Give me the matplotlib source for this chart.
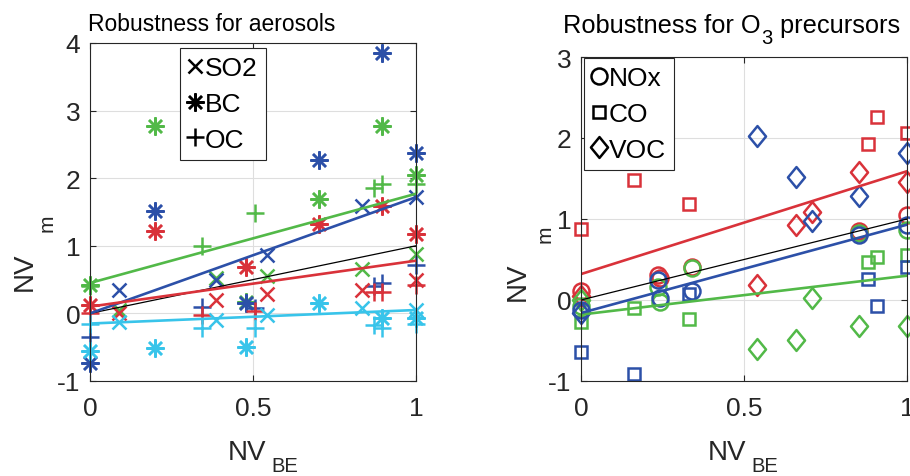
import numpy as np
import matplotlib
matplotlib.use("Agg")
import matplotlib.pyplot as plt
from matplotlib.lines import Line2D
from matplotlib.path import Path

FONT = ['Liberation Sans Narrow', 'Liberation Sans', 'DejaVu Sans']
plt.rcParams['font.family'] = FONT

GREEN = '#52b948'
BLUE = '#2c50a8'
RED = '#d9323a'
CYAN = '#38c4ea'
GRAY = '#262626'

# ---------------- Aerosols (left) ----------------
aer_colors = ['green', 'blue', 'red', 'cyan']
so2_x = [0.09, 0.385, 0.542, 0.835, 1.0]
so2_y = {
    'green': [0.05, 0.53, 0.56, 0.66, 0.88],
    'blue':  [0.34, 0.50, 0.86, 1.59, 1.72],
    'red':   [0.00, 0.20, 0.29, 0.34, 0.50],
    'cyan':  [-0.12, -0.10, -0.03, 0.08, 0.05],
}
bc_x = [0.0, 0.2, 0.48, 0.703, 0.895, 1.0]
bc_y = {
    'green': [0.42, 2.77, 0.17, 1.69, 2.77, 2.05],
    'blue':  [-0.74, 1.52, 0.15, 2.27, 3.85, 2.38],
    'red':   [0.12, 1.22, 0.69, 1.32, 1.59, 1.18],
    'cyan':  [-0.56, -0.51, -0.49, 0.15, -0.07, -0.07],
}
oc_x = [0.0, 0.345, 0.506, 0.872, 0.895, 1.0]
oc_y = {
    'green': [0.40, 1.00, 1.48, 1.85, 1.91, 1.91],
    'blue':  [-0.35, 0.10, 0.08, 0.41, 0.45, 0.71],
    'red':   [0.00, -0.03, 0.03, 0.32, 0.32, 0.42],
    'cyan':  [-0.15, -0.22, -0.22, -0.17, -0.22, -0.15],
}
# fitted lines: intercept, slope
aer_fit = {
    'green': (0.45, 1.32),
    'blue':  (0.00, 1.72),
    'red':   (0.10, 0.68),
    'cyan':  (-0.15, 0.20),
}

# ---------------- O3 precursors (right) ----------------
o3_colors = ['red', 'green', 'blue']
nox_x = [0.0, 0.236, 0.242, 0.34, 0.853, 1.0]
nox_y = {
    'red':   [0.11, 0.31, 0.27, 0.41, 0.85, 1.05],
    'green': [-0.08, 0.16, -0.02, 0.39, 0.83, 0.86],
    'blue':  [-0.12, 0.25, 0.02, 0.11, 0.80, 0.93],
}
co_x = [0.0, 0.163, 0.332, 0.881, 0.909, 1.0]
co_y = {
    'red':   [0.88, 1.48, 1.18, 1.93, 2.26, 2.06],
    'green': [-0.27, -0.10, -0.23, 0.47, 0.53, 0.56],
    'blue':  [-0.64, -0.91, 0.07, 0.26, -0.07, 0.41],
}
voc_x = [0.0, 0.539, 0.658, 0.708, 0.853, 1.0]
voc_y = {
    'red':   [0.05, 0.19, 0.93, 1.09, 1.58, 1.46],
    'green': [0.00, -0.60, -0.49, 0.03, -0.32, -0.32],
    'blue':  [-0.16, 2.02, 1.52, 0.97, 1.29, 1.81],
}
o3_fit = {
    'red':   (0.32, 1.27),
    'green': (-0.18, 0.48),
    'blue':  (-0.16, 1.09),
}

cmap = {'green': GREEN, 'blue': BLUE, 'red': RED, 'cyan': CYAN}

ast_marker = (8, 2, 0)   # 8-armed asterisk like MATLAB '*'
diamond = Path([(0, -1), (0.82, 0), (0, 1), (-0.82, 0), (0, -1)],
               [Path.MOVETO, Path.LINETO, Path.LINETO, Path.LINETO, Path.CLOSEPOLY])

W, H = 910, 477
fig = plt.figure(figsize=(W / 100, H / 100), dpi=100)

def px_axes(l, t, r, b):
    return fig.add_axes([l / W, 1 - b / H, (r - l) / W, (b - t) / H])

axL = px_axes(90, 44, 416, 382)
axR = px_axes(581, 58, 907, 382)

def style(ax, ylim, yticks):
    ax.set_xlim(0, 1)
    ax.set_ylim(*ylim)
    ax.set_xticks([0, 0.5, 1])
    ax.set_xticklabels(['0', '0.5', '1'])
    ax.set_yticks(yticks)
    ax.set_yticklabels([str(v) for v in yticks])
    ax.grid(True, color='#dedede', linewidth=0.8)
    ax.set_axisbelow(True)
    ax.tick_params(direction='in', length=4, width=0.8, colors=GRAY,
                   labelsize=19, labelcolor=GRAY, top=True, right=True)
    ax.tick_params(axis='x', pad=11)
    ax.tick_params(axis='y', pad=7)
    for s in ax.spines.values():
        s.set_color(GRAY)
        s.set_linewidth(0.8)

style(axL, (-1, 4), [-1, 0, 1, 2, 3, 4])
style(axR, (-1, 3), [-1, 0, 1, 2, 3])

xx = np.array([0.0, 1.0])
MEW = 1.8
# Left panel
for c in aer_colors:
    col = cmap[c]
    axL.plot(so2_x, so2_y[c], ls='none', marker='x', ms=10, mew=MEW, color=col, clip_on=False)
    axL.plot(bc_x, bc_y[c], ls='none', marker=ast_marker, ms=13, mew=MEW, color=col, clip_on=False)
    axL.plot(oc_x, oc_y[c], ls='none', marker='+', ms=13, mew=MEW, color=col, clip_on=False)
axL.plot(xx, xx, color='black', lw=0.9)
for c in aer_colors:
    b0, b1 = aer_fit[c]
    axL.plot(xx, b0 + b1 * xx, color=cmap[c], lw=1.9)

# Right panel
for c in o3_colors:
    col = cmap[c]
    axR.plot(nox_x, nox_y[c], ls='none', marker='o', ms=11.5, mew=MEW, mfc='none', color=col, clip_on=False)
    axR.plot(co_x, co_y[c], ls='none', marker='s', ms=8, mew=MEW, mfc='none', color=col, clip_on=False)
    axR.plot(voc_x, voc_y[c], ls='none', marker=diamond, ms=15, mew=MEW, mfc='none', color=col, clip_on=False)
axR.plot(xx, xx, color='black', lw=0.9)
for c in o3_colors:
    b0, b1 = o3_fit[c]
    axR.plot(xx, b0 + b1 * xx, color=cmap[c], lw=1.9)

# Legends
leg_kw = dict(loc='upper left', fontsize=19, handlelength=0.55, handletextpad=0.1,
              borderpad=0.3, labelspacing=0.45, borderaxespad=0,
              fancybox=False, framealpha=1, edgecolor=GRAY)
hL = [Line2D([], [], ls='none', marker='x', ms=10, mew=MEW, color='k'),
      Line2D([], [], ls='none', marker=ast_marker, ms=13, mew=MEW, color='k'),
      Line2D([], [], ls='none', marker='+', ms=13, mew=MEW, color='k')]
legL = axL.legend(hL, ['SO2', 'BC', 'OC'],
                  bbox_to_anchor=((180 - 90) / 326, (382 - 49) / 338), **leg_kw)
legL.get_frame().set_linewidth(0.8)
hR = [Line2D([], [], ls='none', marker='o', ms=11.5, mew=MEW, mfc='none', color='k'),
      Line2D([], [], ls='none', marker='s', ms=8, mew=MEW, mfc='none', color='k'),
      Line2D([], [], ls='none', marker=diamond, ms=15, mew=MEW, mfc='none', color='k')]
legR = axR.legend(hR, ['NOx', 'CO', 'VOC'],
                  bbox_to_anchor=((584 - 581) / 326, (382 - 59) / 324), **leg_kw)
legR.get_frame().set_linewidth(0.8)

renderer = fig.canvas.get_renderer()

def fx(p):
    return p / W

def fy(p):
    return 1 - p / H

# Titles (subscript placed as a separate, lowered text)
fig.text(fx(88), fy(31), 'Robustness for aerosols', fontsize=16.5,
         ha='left', va='baseline', color='black')
t1 = fig.text(fx(563), fy(33), 'Robustness for O', fontsize=18.3,
              ha='left', va='baseline', color='black')
x_end = t1.get_window_extent(renderer).x1
t2 = fig.text(x_end / W + fx(1), fy(44), '3', fontsize=14.5, ha='left', va='baseline', color='black')
x_end2 = t2.get_window_extent(renderer).x1
fig.text(x_end2 / W, fy(33), ' precursors', fontsize=18.3, ha='left', va='baseline', color='black')

# X labels
for x0 in (228, 708):
    tn = fig.text(fx(x0), fy(460), 'NV', fontsize=20, ha='left', va='baseline', color=GRAY)
    xe = tn.get_window_extent(renderer).x1
    fig.text(xe / W + fx(5), fy(472), 'BE', fontsize=14.5, ha='left', va='baseline', color=GRAY)

# Y labels
for x0, yb, xm, ym in ((12, 291, 38, 232), (505, 301, 536, 243)):
    fig.text(fx(x0), fy(yb), 'NV', fontsize=20, rotation=90, ha='left', va='bottom', color=GRAY)
    fig.text(fx(xm), fy(ym), 'm', fontsize=15, rotation=90, ha='left', va='bottom', color=GRAY)

fig.savefig('out.png', dpi=100)
